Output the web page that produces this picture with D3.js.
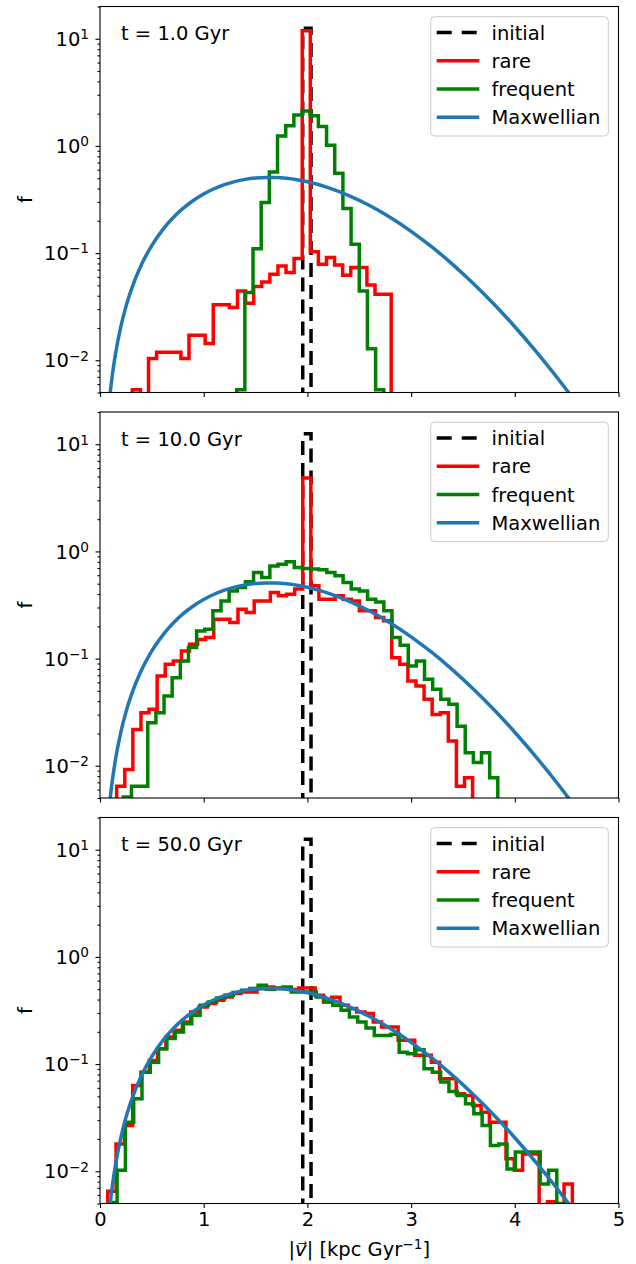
<!DOCTYPE html>
<html>
<head>
<meta charset="utf-8">
<script src="https://cdn.jsdelivr.net/npm/d3@7"></script>
<style>
  body { margin: 0; background: #fff; }
  text { font-family: "DejaVu Sans", sans-serif; fill: #000; }
</style>
</head>
<body>
<script>
// tick values and labels
const xTicks = [0, 1, 2, 3, 4, 5];
const yTicks = [0.01, 0.1, 1, 10];
const yTickExp = ["\u22122", "\u22121", "0", "1"];
const panelLabels = ["t = 1.0 Gyr", "t = 10.0 Gyr", "t = 50.0 Gyr"];
const seriesNames = ["initial", "rare", "frequent", "Maxwellian"];

// histograms: [first bin edge, bin width] + value per bin
const initialBins = [1.955, 0.08];
const initialHist = [12.5];

const rare1Bins = [0.312, 0.078];
const rare1 = [0.0053, 0, 0.0104, 0.0119, 0.0119, 0.0119, 0.0104, 0.0171, 0.0171, 0.0143,
  0.033, 0.033, 0.031, 0.0443, 0.034, 0.0487, 0.0537, 0.0634, 0.0758, 0.0658, 0.0889, 11.9,
  0.103, 0.0786, 0.0907, 0.0775, 0.062, 0.0732, 0.0732, 0.0504, 0.0412, 0.0412];
const freq1Bins = [1.318, 0.0788];
const freq1 = [0.0053, 0.0428, 0.110, 0.296, 0.572, 1.24, 1.54, 1.94, 2.12, 1.91, 1.52, 1.015,
  0.556, 0.260, 0.121, 0.0443, 0.0128, 0.0053];

const rare2Bins = [0.161, 0.078];
const rare2 = [0.00644, 0.00923, 0.0218, 0.0313, 0.0336, 0.0688, 0.0885, 0.095, 0.118, 0.136,
  0.151, 0.157, 0.233, 0.233, 0.217, 0.289, 0.269, 0.345, 0.345, 0.414, 0.385, 0.399, 0.445, 4.84,
  0.477, 0.358, 0.358, 0.385, 0.358, 0.345, 0.279, 0.279, 0.242, 0.225, 0.102, 0.0885, 0.0618,
  0.0555, 0.0417, 0.0301, 0.0313, 0.0170, 0.00644, 0.00773];
const freq2Bins = [0.225, 0.0785];
const freq2 = [0.0051, 0.00644, 0.00644, 0.0252, 0.0313, 0.0447, 0.0664, 0.095, 0.127, 0.181,
  0.188, 0.279, 0.345, 0.428, 0.461, 0.520, 0.637, 0.571, 0.733, 0.761, 0.800, 0.709, 0.694,
  0.684, 0.674, 0.637, 0.592, 0.513, 0.445, 0.428, 0.358, 0.338, 0.279, 0.157, 0.133, 0.0853,
  0.095, 0.064, 0.0516, 0.0417, 0.0374, 0.0234, 0.0132, 0.0107, 0.0132, 0.00773];

const rare3Bins = [0.075, 0.08];
const rare3 = [0.0065, 0.018, 0.0267, 0.0632, 0.084, 0.108, 0.139, 0.179, 0.207, 0.247, 0.306,
  0.341, 0.367, 0.394, 0.423, 0.455, 0.471, 0.471, 0.506, 0.525, 0.506, 0.513, 0.497, 0.513,
  0.513, 0.438, 0.38, 0.42, 0.354, 0.33, 0.306, 0.296, 0.247, 0.222, 0.222, 0.167, 0.167, 0.121,
  0.121, 0.104, 0.073, 0.073, 0.0529, 0.051, 0.0411, 0.0356, 0.0287, 0.0287, 0.0131, 0.0102,
  0.0145, 0.0145, 0, 0.0052, 0, 0.0076];
const freq3Bins = [0.085, 0.08];
const freq3 = [0.0051, 0.0102, 0.0287, 0.0475, 0.084, 0.104, 0.139, 0.173, 0.199, 0.238, 0.285,
  0.354, 0.38, 0.414, 0.438, 0.465, 0.489, 0.506, 0.544, 0.50, 0.513, 0.525, 0.471, 0.471, 0.471,
  0.423, 0.38, 0.354, 0.318, 0.275, 0.247, 0.217, 0.185, 0.185, 0.19, 0.129, 0.125, 0.136,
  0.0905, 0.084, 0.068, 0.0555, 0.051, 0.0427, 0.0344, 0.0267, 0.0174, 0.018, 0.0105, 0.0151,
  0.0151, 0.0151, 0.0076, 0.0102, 0.005];

// Maxwellian curve, points (same in every panel)
const maxV = [0.08, 0.1, 0.12, 0.15, 0.2, 0.25, 0.3, 0.4, 0.5, 0.6, 0.7, 0.8, 0.9, 1.0, 1.1, 1.2,
  1.3, 1.4, 1.5, 1.6, 1.7, 1.8, 1.9, 2.0, 2.2, 2.4, 2.6, 2.8, 3.0, 3.2, 3.4, 3.6, 3.8, 4.0, 4.2,
  4.4, 4.6];
const maxF = [0.00331, 0.00516, 0.00742, 0.01156, 0.02042, 0.03164, 0.04509, 0.07809, 0.11797,
  0.16301, 0.21131, 0.26090, 0.30982, 0.35618, 0.39835, 0.43489, 0.46472, 0.48705, 0.50150,
  0.50798, 0.50674, 0.49819, 0.48318, 0.46254, 0.40845, 0.34426, 0.27770, 0.21481, 0.15960,
  0.11406, 0.07850, 0.05205, 0.03329, 0.02055, 0.012248, 0.007053, 0.003925];

var width = 636,
  height = 1264,
  plotLeft = 100,
  plotRight = 618.5,
  panelH = 386,
  panelTops = [6.5, 412, 817.5],
  fs = 19.5;

var colors = {initial: "#000000", rare: "#ff0000", frequent: "#008000", Maxwellian: "#1f77b4"};

var panels = [
  {label: panelLabels[0], rare: [rare1Bins, rare1], freq: [freq1Bins, freq1]},
  {label: panelLabels[1], rare: [rare2Bins, rare2], freq: [freq2Bins, freq2]},
  {label: panelLabels[2], rare: [rare3Bins, rare3], freq: [freq3Bins, freq3]}
];

var svg = d3.select("body").append("svg")
  .attr("width", width)
  .attr("height", height);

var x = d3.scaleLinear().domain([0, 5]).range([plotLeft, plotRight]);
var y = d3.scaleLog().domain([0.005, 20]).range([panelH, 0]);
var floorVal = 1e-3;

// outline of a step histogram, like histtype="step"
function histPath(bins, vals) {
  var start = bins[0], w = bins[1];
  var pts = [[start, floorVal]];
  vals.forEach(function (v, i) {
    var a = start + i * w;
    pts.push([a, Math.max(v, floorVal)]);
    pts.push([a + w, Math.max(v, floorVal)]);
  });
  pts.push([start + vals.length * w, floorVal]);
  return d3.line().x(d => x(d[0])).y(d => y(d[1]))(pts);
}

var maxLine = d3.line()
  .x((d, i) => x(maxV[i]))
  .y(d => y(d))
  .curve(d3.curveMonotoneX);

var minorTicks = y.ticks().filter(t => yTicks.indexOf(t) < 0);

panels.forEach(function (p, pi) {
  var g = svg.append("g").attr("transform", `translate(0,${panelTops[pi]})`);

  g.append("clipPath").attr("id", "clip" + pi)
    .append("rect")
    .attr("x", plotLeft).attr("y", 0)
    .attr("width", plotRight - plotLeft).attr("height", panelH);

  var plot = g.append("g").attr("clip-path", `url(#clip${pi})`);

  plot.append("path")
    .attr("d", histPath(initialBins, initialHist))
    .attr("fill", "none")
    .attr("stroke", colors.initial)
    .attr("stroke-width", 3.5)
    .attr("stroke-dasharray", "14,8");

  plot.append("path")
    .attr("d", histPath(p.rare[0], p.rare[1]))
    .attr("fill", "none")
    .attr("stroke", colors.rare)
    .attr("stroke-width", 3.5);

  plot.append("path")
    .attr("d", histPath(p.freq[0], p.freq[1]))
    .attr("fill", "none")
    .attr("stroke", colors.frequent)
    .attr("stroke-width", 3.5);

  plot.append("path")
    .attr("d", maxLine(maxF))
    .attr("fill", "none")
    .attr("stroke", colors.Maxwellian)
    .attr("stroke-width", 3.5);

  // y axis, major + minor ticks
  g.append("g")
    .attr("transform", `translate(${plotLeft},0)`)
    .call(d3.axisLeft(y).tickValues(yTicks).tickSize(4.5).tickSizeOuter(0).tickFormat(""))
    .call(a => a.select(".domain").remove());
  g.append("g")
    .attr("transform", `translate(${plotLeft},0)`)
    .call(d3.axisLeft(y).tickValues(minorTicks).tickSize(2.5).tickSizeOuter(0).tickFormat(""))
    .call(a => a.select(".domain").remove());

  yTicks.forEach(function (t, i) {
    var lab = g.append("text")
      .attr("x", plotLeft - 11)
      .attr("y", y(t) + 7.1)
      .attr("text-anchor", "end")
      .style("font-size", fs + "px");
    lab.append("tspan").text("10");
    lab.append("tspan").attr("dy", -6.8).style("font-size", (fs * 0.7) + "px").text(yTickExp[i]);
  });

  // x axis
  var xa = g.append("g")
    .attr("transform", `translate(0,${panelH})`)
    .call(d3.axisBottom(x).tickValues(xTicks).tickSize(4.5).tickSizeOuter(0)
      .tickFormat(pi === 2 ? d3.format("d") : ""));
  xa.select(".domain").remove();
  xa.selectAll("text").style("font-size", fs + "px").attr("y", 8.5).attr("dy", "0.71em")
    .style("font-family", "DejaVu Sans");

  svg.selectAll(".tick line").attr("stroke", "#000").attr("stroke-width", 1.1);

  // frame
  g.append("rect")
    .attr("x", plotLeft).attr("y", 0)
    .attr("width", plotRight - plotLeft).attr("height", panelH)
    .attr("fill", "none")
    .attr("stroke", "#000")
    .attr("stroke-width", 1.1);

  // y label
  g.append("text")
    .attr("transform", `translate(31.5,${panelH / 2}) rotate(-90)`)
    .attr("text-anchor", "middle")
    .style("font-size", fs + "px")
    .text("f");

  // time label
  g.append("text")
    .attr("x", 121)
    .attr("y", 33.5)
    .style("font-size", fs + "px")
    .text(p.label);

  // legend
  var leg = g.append("g").attr("class", "legend");
  leg.append("rect")
    .attr("x", 430.7).attr("y", 10.2)
    .attr("width", 177.6).attr("height", 119.3)
    .attr("rx", 4)
    .attr("fill", "#fff").attr("fill-opacity", 0.8)
    .attr("stroke", "#cccccc").attr("stroke-width", 1);

  var rows = leg.selectAll(".row")
    .data(seriesNames)
    .enter().append("g")
    .attr("class", "row")
    .attr("transform", (d, i) => `translate(0,${26 + i * 28.27})`);

  rows.append("line")
    .attr("x1", 436.7).attr("x2", 479.3)
    .attr("y1", 0).attr("y2", 0)
    .attr("stroke", d => colors[d])
    .attr("stroke-width", 3.5)
    .attr("stroke-dasharray", d => d === "initial" ? "15,10" : null);

  rows.append("text")
    .attr("x", 491.5)
    .attr("y", 7)
    .style("font-size", fs + "px")
    .text(d => d);
});

// x label
var xl = svg.append("text")
  .attr("x", (plotLeft + plotRight) / 2)
  .attr("y", 1256)
  .attr("text-anchor", "middle")
  .style("font-size", fs + "px");
xl.append("tspan").text("|");
xl.append("tspan").style("font-style", "italic").text("v\u20D7");
xl.append("tspan").text("| [kpc Gyr");
xl.append("tspan").attr("dy", -6.8).style("font-size", (fs * 0.7) + "px").text("\u22121");
xl.append("tspan").attr("dy", 6.8).text("]");
</script>
</body>
</html>
